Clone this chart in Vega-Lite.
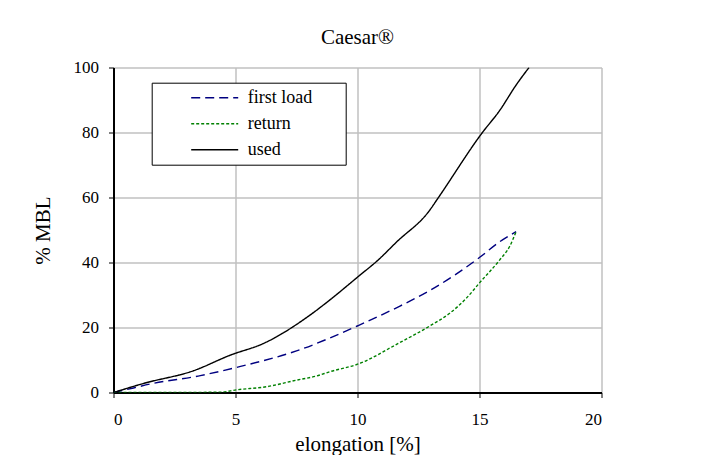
{
  "$schema": "https://vega.github.io/schema/vega-lite/v6.json",
  "autosize": {"type": "none"},
  "padding": {"left": 113.5, "top": 67.5, "right": 114.5, "bottom": 62.5},
  "width": 488,
  "height": 325,
  "background": "white",
  "title": {"text": "Caesar®", "anchor": "middle", "frame": "group", "fontSize": 21, "font": "Liberation Serif", "fontWeight": "normal", "color": "black", "offset": 11},
  "data": {
    "values": [
      {"series": "first load", "x": 0, "y": 0},
      {"series": "first load", "x": 0.82, "y": 1.4},
      {"series": "first load", "x": 1.5, "y": 2.6},
      {"series": "first load", "x": 3.56, "y": 5.2},
      {"series": "first load", "x": 5.03, "y": 7.7},
      {"series": "first load", "x": 7.5, "y": 12.8},
      {"series": "first load", "x": 10.03, "y": 20.6},
      {"series": "first load", "x": 11.74, "y": 26.6},
      {"series": "first load", "x": 12.97, "y": 31.4},
      {"series": "first load", "x": 15.01, "y": 41.6},
      {"series": "first load", "x": 15.83, "y": 46.4},
      {"series": "first load", "x": 16.5, "y": 49.5},
      {"series": "return", "x": 0, "y": 0},
      {"series": "return", "x": 2, "y": 0},
      {"series": "return", "x": 4.4, "y": 0.1},
      {"series": "return", "x": 5.03, "y": 0.8},
      {"series": "return", "x": 6.29, "y": 1.8},
      {"series": "return", "x": 7.5, "y": 3.8},
      {"series": "return", "x": 8.33, "y": 5.1},
      {"series": "return", "x": 8.87, "y": 6.4},
      {"series": "return", "x": 10.04, "y": 8.8},
      {"series": "return", "x": 11.67, "y": 15.1},
      {"series": "return", "x": 12.97, "y": 20.5},
      {"series": "return", "x": 13.78, "y": 24.4},
      {"series": "return", "x": 14.46, "y": 29.0},
      {"series": "return", "x": 15.01, "y": 33.8},
      {"series": "return", "x": 15.83, "y": 40.8},
      {"series": "return", "x": 16.24, "y": 45.0},
      {"series": "return", "x": 16.5, "y": 49.5},
      {"series": "used", "x": 0, "y": 0},
      {"series": "used", "x": 1.24, "y": 2.8},
      {"series": "used", "x": 3.28, "y": 6.7},
      {"series": "used", "x": 4.79, "y": 11.5},
      {"series": "used", "x": 6.15, "y": 15.1},
      {"series": "used", "x": 8.05, "y": 23.8},
      {"series": "used", "x": 8.87, "y": 28.5},
      {"series": "used", "x": 10.05, "y": 35.8},
      {"series": "used", "x": 10.85, "y": 40.8},
      {"series": "used", "x": 11.6, "y": 46.3},
      {"series": "used", "x": 12.95, "y": 56.0},
      {"series": "used", "x": 13.3, "y": 59.8},
      {"series": "used", "x": 15.12, "y": 80},
      {"series": "used", "x": 15.83, "y": 86.8},
      {"series": "used", "x": 16.5, "y": 94.6},
      {"series": "used", "x": 17.03, "y": 100}
    ]
  },
  "mark": {"type": "line", "strokeWidth": 1.4, "clip": true, "interpolate": "monotone"},
  "encoding": {
    "x": {
      "field": "x", "type": "quantitative",
      "scale": {"domain": [0, 20], "nice": false, "zero": false},
      "axis": {"title": "elongation [%]", "values": [0, 5, 10, 15, 20], "labelPadding": 14, "titlePadding": 6}
    },
    "y": {
      "field": "y", "type": "quantitative",
      "scale": {"domain": [0, 100], "nice": false},
      "axis": {"title": "% MBL", "values": [0, 20, 40, 60, 80, 100], "labelPadding": 10, "titlePadding": 20}
    },
    "color": {
      "field": "series", "type": "nominal",
      "scale": {"domain": ["first load", "return", "used"], "range": ["#000080", "#008000", "#000000"]},
      "legend": {
        "title": null,
        "orient": "none",
        "legendX": 38.2,
        "legendY": 15.2,
        "symbolType": "M-4.7,0H4.7",
        "symbolSize": 100,
        "symbolStrokeWidth": 1.4,
        "symbolOffset": 48,
        "labelOffset": 24,
        "labelExpr": "datum.label + '\u00a0\u00a0\u00a0\u00a0\u00a0\u00a0\u200b'",
        "rowPadding": 8,
        "padding": 6
      }
    },
    "strokeDash": {
      "field": "series", "type": "nominal",
      "scale": {"domain": ["first load", "return", "used"], "range": [[9, 5], [3, 2], [1, 0]]},
      "legend": null
    }
  },
  "config": {
    "font": "Liberation Serif",
    "view": {"stroke": null},
    "axis": {
      "domainColor": "black",
      "domainWidth": 2,
      "tickColor": "black",
      "tickSize": 5,
      "tickWidth": 1,
      "gridColor": "#c0c0c0",
      "gridWidth": 1.5,
      "gridOpacity": 1,
      "labelFont": "Liberation Serif",
      "labelFontSize": 17,
      "labelColor": "black",
      "titleFont": "Liberation Serif",
      "titleFontSize": 21,
      "titleFontWeight": "normal",
      "titleColor": "black"
    },
    "legend": {
      "strokeColor": "black",
      "fillColor": "white",
      "labelFont": "Liberation Serif",
      "labelFontSize": 18,
      "labelColor": "black"
    }
  }
}
